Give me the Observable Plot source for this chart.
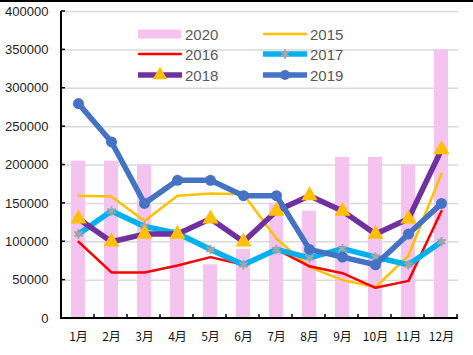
<!DOCTYPE html>
<html><head><meta charset="utf-8">
<script src="https://cdn.jsdelivr.net/npm/d3@7"></script>
<script src="https://cdn.jsdelivr.net/npm/@observablehq/plot@0.6"></script>
<style>
body{margin:0;background:#fff;}
#wrap{position:relative;width:473px;height:355px;overflow:hidden;background:#fff;}
#topline{position:absolute;left:0;top:0;width:473px;height:2px;background:#000;}
.lg{position:absolute;display:flex;align-items:center;font:15px "Liberation Sans",Arial,sans-serif;color:#595959;line-height:1;}
.lg svg{display:block;margin-right:3px;}
</style></head><body><div id="wrap"></div>
<script>
const months = ["1月","2月","3月","4月","5月","6月","7月","8月","9月","10月","11月","12月"];
const yTicks = [0,50000,100000,150000,200000,250000,300000,350000,400000];
const s2020 = [205000,205000,200000,115000,70000,90000,150000,140000,210000,210000,200000,350000];
const s2015 = [160000,159000,127000,160000,163000,162000,104000,67000,50000,41000,82000,189000];
const s2016 = [100000,60000,60000,69000,80000,70000,90000,68000,59000,40000,49000,140000];
const s2017 = [110000,140000,120000,111000,90000,70000,90000,79000,91000,80000,70000,100000];
const s2018 = [130000,100000,110000,110000,130000,100000,140000,160000,140000,110000,130000,220000];
const s2019 = [280000,230000,150000,180000,180000,160000,160000,90000,80000,70000,110000,150000];

const rows = k => months.map((m,i)=>({m, v:k[i]}));
const C = {c2020:"#F5C3F0", c2015:"#FFC000", c2016:"#FF0000", c2017:"#00B0F0", c2018:"#7030A0", c2019:"#4472C4", star:"#A5A5A5", tri:"#FFC000"};

const chart = Plot.plot({
  width: 473, height: 355,
  marginLeft: 61, marginRight: 15, marginTop: 11, marginBottom: 37,
  style: {fontFamily: '"Liberation Sans", Arial, sans-serif', background: "#fff"},
  x: {domain: months, paddingInner: 0.58, paddingOuter: 0.29, label: null},
  y: {domain: [0, 400000], ticks: yTicks, label: null},
  marks: [
    Plot.gridY(yTicks, {stroke: "#D9D9D9", strokeOpacity: 1, strokeWidth: 1.5}),
    Plot.axisY(yTicks, {tickSize: 0, tickPadding: 13, tickFormat: d => String(d), fontSize: 13, fill: "#222", label: null}),
    Plot.axisX({tickSize: 0, tickPadding: 14, fontSize: 12, fill: "#111", fontFamily: '"Noto Sans CJK SC", sans-serif', label: null}),
    Plot.barY(rows(s2020), {x: "m", y: "v", fill: C.c2020}),
    Plot.line(rows(s2015), {x: "m", y: "v", stroke: C.c2015, strokeWidth: 2.5}),
    Plot.line(rows(s2016), {x: "m", y: "v", stroke: C.c2016, strokeWidth: 2.5}),
    Plot.line(rows(s2017), {x: "m", y: "v", stroke: C.c2017, strokeWidth: 5.5}),
    Plot.dot(rows(s2017), {x: "m", y: "v", symbol: "asterisk", r: 4.5, stroke: C.star, strokeWidth: 2}),
    Plot.line(rows(s2018), {x: "m", y: "v", stroke: C.c2018, strokeWidth: 5.5}),
    Plot.dot(rows(s2018), {x: "m", y: "v", symbol: "triangle", r: 6, fill: C.tri, stroke: "none"}),
    Plot.line(rows(s2019), {x: "m", y: "v", stroke: C.c2019, strokeWidth: 5.5}),
    Plot.dot(rows(s2019), {x: "m", y: "v", symbol: "circle", r: 5.5, fill: C.c2019, stroke: "none"})
  ]
});

// axis lines and inside ticks, from the chart's own scales
const xs = chart.scale("x"), ys = chart.scale("y");
const svg = d3.select(chart);
const g = svg.append("g").attr("stroke", "#000");
const x0 = xs.range[0], x1 = xs.range[1];
const yb = ys.apply(0), yt = ys.apply(400000);
g.append("line").attr("x1", x0).attr("x2", x0).attr("y1", yt).attr("y2", yb + 1).attr("stroke-width", 2);
g.append("line").attr("x1", x0 - 1).attr("x2", x1).attr("y1", yb).attr("y2", yb).attr("stroke-width", 2);
for (let i = 0; i <= months.length; i++) {
  const xx = x0 + xs.step * i;
  g.append("line").attr("x1", xx).attr("x2", xx).attr("y1", yb).attr("y2", yb - 4).attr("stroke-width", 1.5);
}
for (const t of yTicks) {
  const yy = ys.apply(t);
  g.append("line").attr("x1", x0).attr("x2", x0 + 4).attr("y1", yy).attr("y2", yy).attr("stroke-width", 1.5);
}

const wrap = document.getElementById("wrap");
wrap.appendChild(chart);
const tl = document.createElement("div"); tl.id = "topline"; wrap.appendChild(tl);

// legend (inside the plot area)
const legendItems = [
  {name: "2020", kind: "bar", color: C.c2020},
  {name: "2015", kind: "line", color: C.c2015, w: 2.5},
  {name: "2016", kind: "line", color: C.c2016, w: 2.5},
  {name: "2017", kind: "line", color: C.c2017, w: 5.5, marker: "asterisk"},
  {name: "2018", kind: "line", color: C.c2018, w: 5.5, marker: "triangle"},
  {name: "2019", kind: "line", color: C.c2019, w: 5.5, marker: "circle"}
];
const colX = [138, 263], rowY = [34, 54, 75];
legendItems.forEach((it, i) => {
  const div = document.createElement("div");
  div.className = "lg";
  div.style.left = colX[i % 2] + "px";
  div.style.top = (rowY[Math.floor(i / 2)] - 8) + "px";
  const s = d3.create("svg").attr("width", 44).attr("height", 16);
  if (it.kind === "bar") {
    s.append("rect").attr("x", 0).attr("y", 3.5).attr("width", 43).attr("height", 9).attr("fill", it.color);
  } else {
    s.append("line").attr("x1", 1).attr("x2", 43).attr("y1", 8).attr("y2", 8)
      .attr("stroke", it.color).attr("stroke-width", it.w).attr("stroke-linecap", "round");
    if (it.marker === "asterisk") {
      s.append("path").attr("transform", "translate(22,8)").attr("d", d3.symbol(d3.symbolAsterisk, 60)())
        .attr("fill", "none").attr("stroke", C.star).attr("stroke-width", 2);
    } else if (it.marker === "triangle") {
      s.append("path").attr("transform", "translate(22,8)").attr("d", d3.symbol(d3.symbolTriangle, 90)()).attr("fill", C.tri);
    } else if (it.marker === "circle") {
      s.append("circle").attr("cx", 22).attr("cy", 8).attr("r", 5).attr("fill", it.color);
    }
  }
  div.appendChild(s.node());
  const span = document.createElement("span");
  span.textContent = it.name;
  div.appendChild(span);
  wrap.appendChild(div);
});
</script>
</body></html>
